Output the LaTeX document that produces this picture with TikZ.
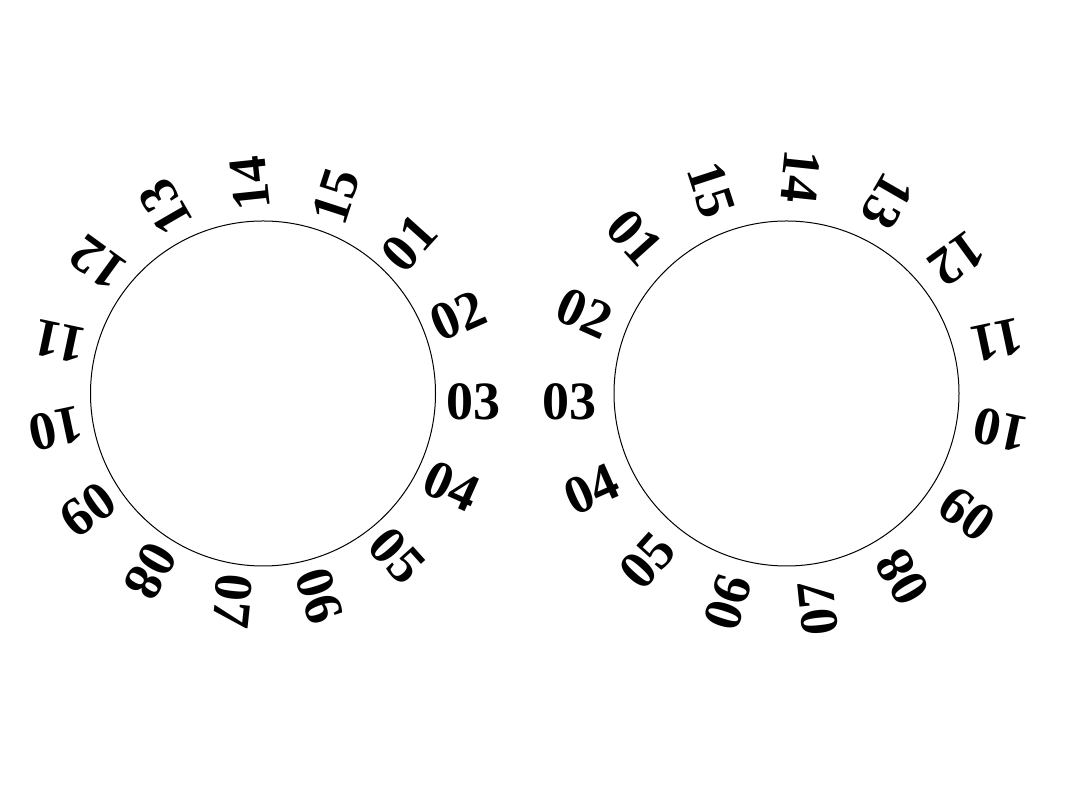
\documentclass[tikz,border=0pt]{standalone}
\usepackage{fontspec}
\setmainfont{Liberation Serif}
\usetikzlibrary{calc}
\begin{document}
\begin{tikzpicture}[x=1pt,y=1pt,
  num/.style={font=\fontsize{54}{54}\selectfont\bfseries, inner sep=0pt},
  ring/.style={draw=black, line width=1pt, circle, minimum size=345pt, inner sep=0pt}]
\useasboundingbox (0,0) rectangle (1066,799);
\node[ring] (CL) at (263,405.5) {};
\node[ring] (CR) at (786.5,405.5) {};
\foreach \n [count=\i] in {03,02,01,15,14,13,12,11,10,09,08,07,06,05,04} {
  \pgfmathsetmacro\a{24*(\i-1)}
  \node[num, rotate=\a] (L\i) at ($(CL.center)+(\a:210)+(\a-90:8.5)$) {\n};
  \pgfmathsetmacro\b{180-24*(\i-1)}
  \pgfmathsetmacro\r{\b+180}
  \node[num, rotate=\r] (R\i) at ($(CR.center)+(\b:217)+(\r-90:8.5)$) {\n};
}
\end{tikzpicture}
\end{document}
